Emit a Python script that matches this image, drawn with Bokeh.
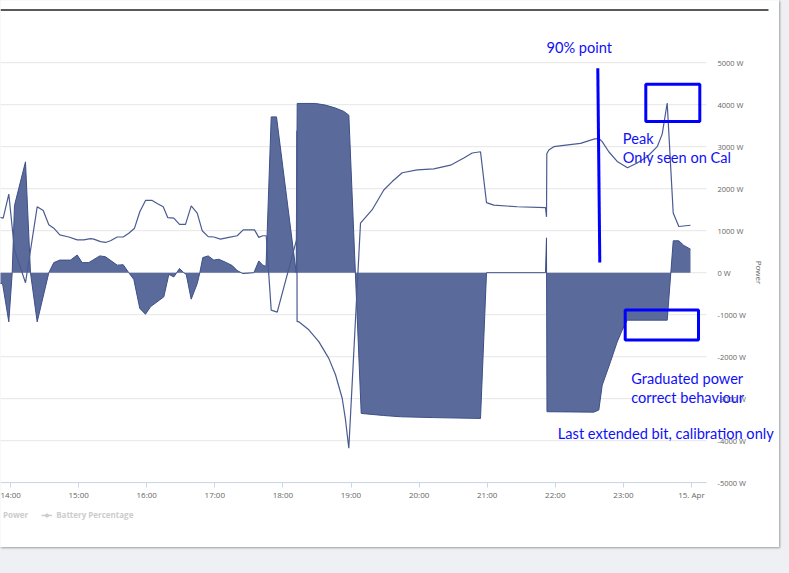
import pandas as pd
from bokeh.plotting import figure
from bokeh.models import (Range1d, FixedTicker, PrintfTickFormatter, Label, Legend, LegendItem)
from bokeh.layouts import column
from bokeh.embed import file_html
from bokeh.resources import INLINE

DAY = "2023-04-14"
# visible window of the (cropped) chart
X_START = "2023-04-14 13:51:11"      # left edge of the card
X_PLOT_END = "2023-04-15 00:13:13"   # right end of the plot area
X_CARD_END = "2023-04-15 01:17:32"   # right edge of the card
W_TOP, W_BOTTOM = 6481, -6543        # power at the card's top / bottom edge

# Power series (W), 14 April
power_times = ["13:48:33", "13:53:00", "13:58:30", "14:01:30", "14:03:30", "14:13:12", "14:17:36",
               "14:23:30", "14:33:45", "14:38:10", "14:43:25", "14:52:50", "14:58:45", "15:03:10",
               "15:09:00", "15:18:40", "15:23:40", "15:34:00", "15:39:18", "15:44:12", "15:48:38",
               "15:53:55", "15:58:55", "16:03:20", "16:15:05", "16:19:30", "16:23:55", "16:28:55",
               "16:32:40", "16:34:50", "16:39:12", "16:44:30", "16:46:48", "16:49:25", "16:54:10",
               "16:59:07", "17:03:30", "17:09:25", "17:15:20", "17:19:45", "17:24:40", "17:34:25",
               "17:38:45", "17:42:18", "17:45:07", "17:49:42", "17:54:22", "18:11:43", "18:12:36",
               "18:28:44", "18:37:32", "18:46:21", "18:53:40", "18:58:05", "19:09:00", "19:28:38",
               "19:43:37", "20:12:40", "20:54:06", "20:59:23", "21:51:22", "21:52:14", "21:52:40",
               "22:33:55", "22:38:20", "22:41:20", "22:48:38", "22:54:30", "22:58:55", "23:03:22",
               "23:38:36", "23:43:55", "23:48:50", "23:53:13", "23:59:07"]
power_watts = [-250, -260, -1170, 0, 1600, 2640, 0,
               -1170, 0, 240, 300, 300, 420, 240,
               240, 400, 380, 180, 190, 0, -160,
               -850, -990, -810, -575, -40, -100, 100,
               0, -40, -630, -260, 0, 360, 400,
               300, 320, 250, 170, 50, -20, 0,
               280, 180, 150, 3710, 3710, 0, 4030,
               4030, 3990, 3920, 3840, 3750, -3350, -3400,
               -3430, -3450, -3470, 0, 0, 830, -3310,
               -3320, -3270, -2680, -2120, -1650, -1370, -1130,
               -1130, 760, 760, 650, 560]

# Battery percentage series (%), 14 April
battery_times = ["13:48:33", "13:53:34", "13:58:30", "14:03:31", "14:13:13", "14:23:31", "14:28:49",
                 "14:33:45", "14:38:09", "14:43:26", "14:51:22", "14:58:46", "15:04:35", "15:10:29",
                 "15:13:23", "15:19:18", "15:23:42", "15:28:06", "15:34:00", "15:39:18", "15:44:14",
                 "15:49:15", "15:53:55", "15:58:57", "16:04:51", "16:09:15", "16:14:33", "16:18:36",
                 "16:23:53", "16:28:54", "16:34:11", "16:39:13", "16:44:30", "16:48:54", "16:54:11",
                 "16:59:07", "17:05:01", "17:12:20", "17:19:44", "17:25:01", "17:34:59", "17:38:46",
                 "17:42:17", "17:45:17", "17:49:41", "17:54:59", "18:11:59", "18:12:14", "18:12:30",
                 "18:14:00", "18:22:49", "18:31:38", "18:40:26", "18:46:21", "18:52:15", "18:55:09",
                 "18:58:04", "19:08:22", "19:18:41", "19:28:54", "19:36:18", "19:45:07", "19:58:20",
                 "20:12:57", "20:27:40", "20:39:23", "20:46:47", "20:54:06", "20:59:23", "21:05:49",
                 "21:26:26", "21:51:22", "21:52:15", "21:52:31", "21:54:17", "21:58:41", "22:07:29",
                 "22:22:12", "22:33:55", "22:38:20", "22:41:19", "22:47:08", "22:54:32", "23:03:37",
                 "23:12:10", "23:20:58", "23:29:47", "23:34:11", "23:38:35", "23:43:53", "23:48:49",
                 "23:59:07"]
battery_pct = [63.3, 63.0, 68.7, 55.4, 47.6, 65.7, 64.8,
               61.4, 60.6, 59.0, 58.5, 57.8, 57.8, 58.1,
               58.0, 57.4, 57.2, 57.6, 58.5, 58.5, 59.4,
               60.6, 64.5, 67.2, 67.2, 66.5, 65.7, 63.1,
               63.0, 61.5, 61.5, 65.9, 64.2, 60.0, 58.6,
               58.5, 58.0, 58.4, 58.8, 60.2, 60.2, 58.4,
               58.8, 58.8, 41.1, 40.6, 57.8, 83.8, 38.4,
               38.3, 36.4, 33.6, 29.6, 25.7, 20.1, 15.0,
               8.2, 61.8, 65.0, 69.7, 71.7, 73.8, 74.5,
               74.7, 75.6, 77.3, 78.5, 78.8, 66.7, 66.1,
               65.7, 65.5, 63.3, 78.3, 79.2, 80.0, 80.3,
               80.8, 81.8, 82.0, 81.2, 78.8, 76.5, 75.0,
               76.1, 77.6, 80.0, 83.0, 90.4, 64.2, 61.0,
               61.3]

x_tick_times = ["2023-04-14 14:00", "2023-04-14 15:00", "2023-04-14 16:00", "2023-04-14 17:00",
                "2023-04-14 18:00", "2023-04-14 19:00", "2023-04-14 20:00", "2023-04-14 21:00",
                "2023-04-14 22:00", "2023-04-14 23:00", "2023-04-15 00:00"]
x_tick_labels = ["14:00", "15:00", "16:00", "17:00", "18:00", "19:00", "20:00", "21:00",
                 "22:00", "23:00", "15. Apr"]
y_ticks = [-5000, -4000, -3000, -2000, -1000, 0, 1000, 2000, 3000, 4000, 5000]

legend_labels = ["Power", "Battery Percentage"]

# hand-drawn annotations (text, time, W)
note_texts = ["90% point", "Peak", "Only seen on Cal", "Graduated power", "correct behaviour",
              "Last extended bit, calibration only"]
note_times = ["2023-04-14 21:52:15", "2023-04-14 22:59:28", "2023-04-14 22:59:28",
              "2023-04-14 23:06:52", "2023-04-14 23:06:52", "2023-04-14 22:02:13"]
note_watts = [5357, 3190, 2752, -2524, -2976, -3833]


def ms(s):
    return pd.Timestamp(s).value / 1e6


def pct_of(w):
    return 50 + w / 100


px = [ms(f"{DAY} {t}") for t in power_times]
bx = [ms(f"{DAY} {t}") for t in battery_times]
x0, x_plot_end, x_card_end = ms(X_START), ms(X_PLOT_END), ms(X_CARD_END)
NAN = float("nan")

FONT = "Open Sans"
NOTE_FONT = "Lato"
BLUE = "#0000ff"

p = figure(width=779, height=547, output_backend="svg", toolbar_location=None,
           x_range=Range1d(x0, x_card_end), y_range=Range1d(W_BOTTOM, W_TOP),
           y_axis_location="right", min_border=0,
           min_border_left=0, min_border_right=0, min_border_top=0, min_border_bottom=0,
           background_fill_color="white", border_fill_color="white", outline_line_color=None)
p.extra_y_ranges = {"pct": Range1d(pct_of(W_BOTTOM), pct_of(W_TOP))}
p.styles = {"box-shadow": "1px 1px 2px rgba(0,0,0,0.35)"}
p.xgrid.visible = False
p.ygrid.visible = False

# axes (drawn at the edges of the plot area)
xt = [ms(t) for t in x_tick_times]
xa = p.xaxis[0]
xa.fixed_location = y_ticks[0]
xa.bounds = (x0, x_plot_end)
xa.ticker = FixedTicker(ticks=xt)
xa.major_label_overrides = {t: lab for t, lab in zip(xt, x_tick_labels)}
xa.axis_line_color = "#ccd6eb"
xa.major_tick_line_color = "#ccd6eb"
xa.major_tick_out = 5
xa.major_tick_in = 0
xa.minor_tick_line_color = None
xa.major_label_standoff = 1
xa.major_label_text_font = FONT
xa.major_label_text_font_size = "8px"
xa.major_label_text_color = "#666666"

ya = p.yaxis[0]
ya.fixed_location = x_plot_end
ya.bounds = (y_ticks[0], y_ticks[-1])
ya.ticker = FixedTicker(ticks=y_ticks)
ya.formatter = PrintfTickFormatter(format="%d W")
ya.axis_line_color = None
ya.major_tick_line_color = None
ya.major_tick_out = 0
ya.major_tick_in = 0
ya.minor_tick_line_color = None
ya.minor_tick_out = 0
ya.major_label_standoff = 11
ya.major_label_text_font = FONT
ya.major_label_text_font_size = "7.5px"
ya.major_label_text_color = "#666666"
ya.axis_label = "Power"
ya.axis_label_text_font = FONT
ya.axis_label_text_font_size = "8px"
ya.axis_label_text_font_style = "normal"
ya.axis_label_text_color = "#666666"
ya.axis_label_standoff = 5

# horizontal grid lines across the plot area
p.segment(x0=[x0] * len(y_ticks), x1=[x_plot_end] * len(y_ticks), y0=y_ticks, y1=y_ticks,
          line_color="#e6e6e6", line_width=1)

# top rule of the card
p.segment(x0=[x0], x1=[ms("2023-04-15 01:07:50")], y0=[6255], y1=[6255],
          line_color="#222222", line_width=1.3)

# power area
p.varea(x=px, y1=0, y2=power_watts, fill_color="#5a6b9b", fill_alpha=1)
p.line(px, power_watts, line_color="#3d4f88", line_width=1)

# battery line
p.line(bx, battery_pct, y_range_name="pct", line_color="#4a5b91", line_width=1.2)

# hand-drawn annotations
p.segment(x0=[ms("2023-04-14 22:37:26")], y0=[4869], x1=[ms("2023-04-14 22:39:12")], y1=[243],
          line_color=BLUE, line_width=3)
p.quad(left=[ms("2023-04-14 23:19:44"), ms("2023-04-14 23:01:35")],
       right=[ms("2023-04-15 00:07:19"), ms("2023-04-15 00:06:10")],
       top=[4488, -886], bottom=[3600, -1600],
       fill_color=None, line_color=BLUE, line_width=3)
for txt, t, w in zip(note_texts, note_times, note_watts):
    p.add_layout(Label(x=ms(t), y=w, text=txt, text_color="#1010f5", text_font=NOTE_FONT,
                       text_font_size="14.6px", text_align="left", text_baseline="alphabetic"))

# legend (greyed, as in the screenshot); the stand-in renderers hold no visible point
lg_area = p.varea(x=[NAN], y1=[NAN], y2=[NAN], fill_color="#cccccc")
lg_line = p.line(x=[NAN], y=[NAN], line_color="#cccccc", line_width=1.5)
lg_dot = p.scatter(x=[NAN], y=[NAN], size=5, fill_color="#cccccc", line_color="#cccccc")
legend = Legend(items=[LegendItem(label=legend_labels[0], renderers=[lg_area]),
                       LegendItem(label=legend_labels[1], renderers=[lg_line, lg_dot])],
                location=(-12, 27), orientation="horizontal",
                glyph_width=11, glyph_height=8, label_standoff=4, spacing=13,
                padding=0, margin=0, label_height=10,
                label_text_font=FONT, label_text_font_size="8px",
                label_text_font_style="bold", label_text_color="#cccccc",
                background_fill_alpha=0, border_line_color=None)
p.add_layout(legend)

root = column(p, width=789, height=573, margin=(0, 0, 0, 0),
              styles={"background-color": "#eef0f4"})

open("out.html", "w").write(file_html(root, INLINE))
